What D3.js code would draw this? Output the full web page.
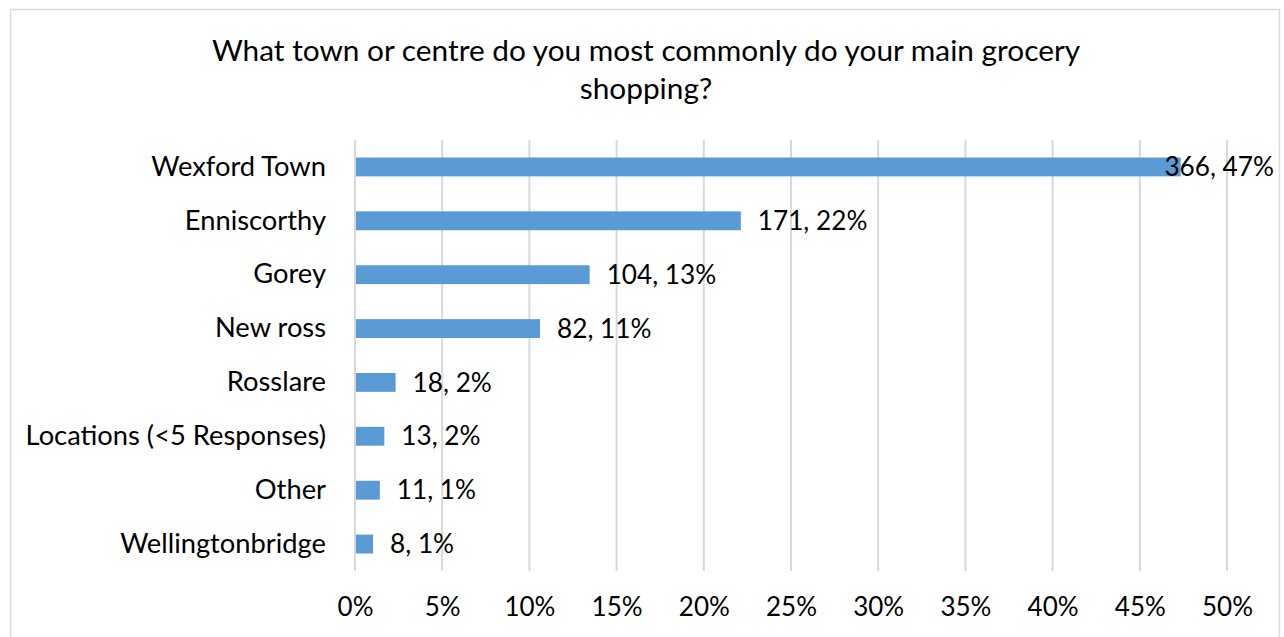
<!DOCTYPE html>
<html>
<head>
<meta charset="utf-8">
<script src="https://cdn.jsdelivr.net/npm/d3@7/dist/d3.min.js"></script>
<style>
  html, body { margin: 0; padding: 0; background: #fff; }
  svg { display: block; font-family: Lato, "Open Sans", sans-serif; }
</style>
</head>
<body>
<svg id="chart" width="1284" height="637"></svg>
<script>
// Survey responses: main grocery shopping location
const categories = ["Wexford Town", "Enniscorthy", "Gorey", "New ross", "Rosslare",
  "Locations (<5 Responses)", "Other", "Wellingtonbridge"];
const counts = [366, 171, 104, 82, 18, 13, 11, 8];
const percentLabels = ["47%", "22%", "13%", "11%", "2%", "2%", "1%", "1%"];
const xTicks = [0, 0.05, 0.10, 0.15, 0.20, 0.25, 0.30, 0.35, 0.40, 0.45, 0.50];
const titleLines = ["What town or centre do you most commonly do your main grocery", "shopping?"];

const total = d3.sum(counts);
const rows = categories.map((c, i) => ({
  name: c, count: counts[i], share: counts[i] / total, pct: percentLabels[i]
}));

const svg = d3.select("#chart");

// chart frame
svg.append("rect")
  .attr("x", 10.5).attr("y", 9.5)
  .attr("width", 1269).attr("height", 640)
  .attr("fill", "#fff").attr("stroke", "#d9d9d9").attr("stroke-width", 1.5);

const plot = { left: 355, right: 1227, top: 140, bottom: 571 };

const x = d3.scaleLinear().domain([0, 0.5]).range([plot.left, plot.right]);
const y = d3.scaleBand().domain(categories).range([plot.top, plot.bottom]).paddingInner(0.65).paddingOuter(0.325);

// title
svg.append("g").selectAll("text").data(titleLines).join("text")
  .attr("x", 646).attr("y", (d, i) => 61 + i * 38)
  .attr("text-anchor", "middle")
  .attr("font-size", 29.8).attr("fill", "#000")
  .text(d => d);

// vertical gridlines
svg.append("g").selectAll("line").data(xTicks).join("line")
  .attr("x1", d => x(d)).attr("x2", d => x(d))
  .attr("y1", plot.top).attr("y2", plot.bottom)
  .attr("stroke", "#d9d9d9").attr("stroke-width", 2);

// x axis labels
const xAxis = d3.axisBottom(x).tickValues(xTicks).tickFormat(d3.format(".0%")).tickSize(0).tickPadding(0);
const gx = svg.append("g").attr("transform", `translate(0, 598)`).call(xAxis);
gx.select(".domain").remove();
gx.selectAll("text").attr("font-size", 26).attr("fill", "#000")
  .attr("font-family", "Lato, 'Open Sans', sans-serif").attr("dy", "0.71em");

// category labels
const yAxis = d3.axisLeft(y).tickSize(0).tickPadding(29);
const gy = svg.append("g").attr("transform", `translate(${plot.left}, 0)`).call(yAxis);
gy.select(".domain").remove();
gy.selectAll("text").attr("font-size", 27.3).attr("fill", "#000")
  .attr("font-family", "Lato, 'Open Sans', sans-serif");

// bars
svg.append("g").selectAll("rect").data(rows).join("rect")
  .attr("x", x(0) + 1)
  .attr("y", d => y(d.name))
  .attr("width", d => x(d.share) - x(0) - 1)
  .attr("height", y.bandwidth())
  .attr("fill", "#5b9bd5");

// value labels, kept inside the frame
const labels = svg.append("g").selectAll("text").data(rows).join("text")
  .attr("y", d => y(d.name) + y.bandwidth() / 2)
  .attr("dy", "0.35em")
  .attr("font-size", 26.2).attr("fill", "#000")
  .text(d => `${d.count}, ${d.pct}`);
labels.each(function(d) {
  const w = this.getComputedTextLength();
  const px = Math.min(x(d.share) + 17, 1274 - w);
  d3.select(this).attr("x", px);
});
</script>
</body>
</html>
